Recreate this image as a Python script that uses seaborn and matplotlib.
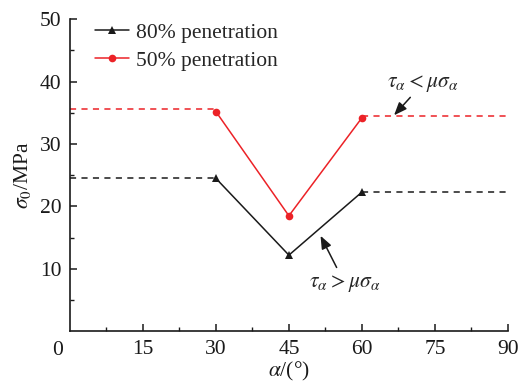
import matplotlib
matplotlib.use("Agg")
import matplotlib.pyplot as plt
import seaborn as sns
import pandas as pd

# Critical stress versus joint angle for two penetration ratios
angles = [30, 45, 60]
sigma_80 = [24.5, 12.2, 22.3]
sigma_50 = [35.2, 18.5, 34.2]

# Plateau levels outside the sliding range
plateau_80_left, plateau_80_right = 24.5, 22.3
plateau_50_left, plateau_50_right = 35.6, 34.5

series_names = ["80% penetration", "50% penetration"]
x_ticks = [15, 30, 45, 60, 75, 90]
y_ticks = [10, 20, 30, 40, 50]

sns.set_theme(style="ticks")
plt.rcParams["font.family"] = ["Liberation Serif", "DejaVu Serif"]
plt.rcParams["mathtext.fontset"] = "stix"

RED = "#ec2227"
BLACK = "#1a1a1a"
FS = 15.5

df = pd.DataFrame({
    "alpha": angles * 2,
    "sigma": sigma_80 + sigma_50,
    "case": [series_names[0]] * 3 + [series_names[1]] * 3,
})

fig = plt.figure(figsize=(5.21, 3.83), dpi=100)
ax = fig.add_axes([0.134, 0.135, 0.841, 0.815])

sns.lineplot(data=df, x="alpha", y="sigma", hue="case", style="case",
             palette={series_names[0]: BLACK, series_names[1]: RED},
             markers={series_names[0]: "^", series_names[1]: "o"},
             dashes=False, markersize=5.5, markeredgewidth=0,
             linewidth=1.1, ax=ax)

# Dashed plateaus
ax.plot([0, 30], [plateau_80_left] * 2, ls=(0, (4, 3.5)), color=BLACK, lw=1.1)
ax.plot([60, 90], [plateau_80_right] * 2, ls=(0, (4, 3.5)), color=BLACK, lw=1.1)
ax.plot([0, 30], [plateau_50_left] * 2, ls=(0, (4, 3.5)), color=RED, lw=1.1)
ax.plot([60, 90], [plateau_50_right] * 2, ls=(0, (4, 3.5)), color=RED, lw=1.1)

ax.set_xlim(0, 90)
ax.set_ylim(0, 50)
ax.set_xticks(x_ticks)
ax.set_yticks(y_ticks)
ax.set_xticks([7.5 + 15 * i for i in range(6)], minor=True)
ax.set_yticks([5, 15, 25, 35, 45], minor=True)
ax.tick_params(which="major", direction="in", length=5, width=1.1,
               labelsize=FS, colors=BLACK, pad=6)
ax.tick_params(which="minor", direction="in", length=3, width=1.0, colors=BLACK)
for s in ("top", "right"):
    ax.spines[s].set_visible(False)
for s in ("left", "bottom"):
    ax.spines[s].set_linewidth(1.2)
    ax.spines[s].set_color(BLACK)

ax.annotate("0", xy=(0, 0), xytext=(-8.5, -7), textcoords="offset points",
            ha="center", va="top", fontsize=FS, color=BLACK)

ax.set_xlabel(r"$\alpha$/(°)", fontsize=FS, labelpad=1, color=BLACK)
ax.set_ylabel(r"$\sigma_0$/MPa", fontsize=FS, labelpad=5, color=BLACK)

leg = ax.legend(loc="upper left", bbox_to_anchor=(0.013, 1.05), frameon=False,
                fontsize=FS, handlelength=1.6, handletextpad=0.3,
                labelspacing=0.35)

# Regime annotations
ax.annotate(r"$\tau_\alpha < \mu\sigma_\alpha$", xy=(66.6, 34.6), xytext=(72.5, 38.0),
            ha="center", va="bottom", fontsize=FS,
            arrowprops=dict(arrowstyle="-|>,head_length=0.5,head_width=0.2",
                            color=BLACK, lw=1.1, shrinkA=0, shrinkB=0))
ax.annotate(r"$\tau_\alpha > \mu\sigma_\alpha$", xy=(51.5, 15.3), xytext=(56.5, 9.3),
            ha="center", va="top", fontsize=FS,
            arrowprops=dict(arrowstyle="-|>,head_length=0.5,head_width=0.2",
                            color=BLACK, lw=1.1, shrinkA=2, shrinkB=0))

fig.savefig("out.png", dpi=100)
